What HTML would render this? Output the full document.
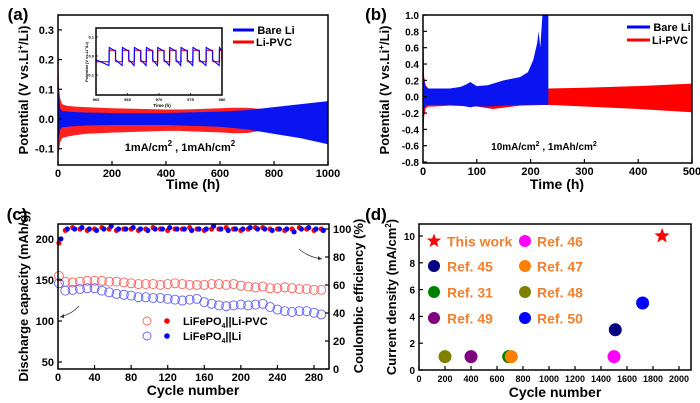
<!DOCTYPE html>
<html><head><meta charset="utf-8">
<style>
html,body{margin:0;padding:0;background:#fff;}
svg{display:block;font-family:"Liberation Sans",Arial,sans-serif;font-weight:bold;}
</style></head>
<body>
<svg id="fig" width="700" height="403" viewBox="0 0 700 403" xmlns="http://www.w3.org/2000/svg"></svg>
<script>
// ---------- Panel (a) data ----------
const aRedT = [0,3,8,15,30,60,100,200,300,400,450,500,600,650,700,750,800];
const aRedUp = [0.35,0.12,0.07,0.05,0.045,0.042,0.04,0.036,0.034,0.032,0.032,0.033,0.036,0.038,0.038,0.034,0.02];
const aRedLo = [-0.155,-0.11,-0.08,-0.065,-0.06,-0.055,-0.05,-0.046,-0.043,-0.04,-0.04,-0.042,-0.045,-0.048,-0.047,-0.04,-0.025];
const aBlueT = [0,3,8,15,50,100,200,400,600,700,800,900,1000];
const aBlueUp = [0.24,0.09,0.035,0.027,0.024,0.022,0.02,0.02,0.025,0.03,0.04,0.05,0.06];
const aBlueLo = [-0.1,-0.06,-0.035,-0.028,-0.025,-0.022,-0.02,-0.02,-0.026,-0.035,-0.05,-0.065,-0.085];
const aXTicks = [0,200,400,600,800,1000];
const aYTicks = [-0.1,0.0,0.1,0.2,0.3];
// inset
const insetHighStarts = [962.1,964.2,966.1,968.0,969.8,971.7,973.5,975.4,977.5,979.6];
const insetXTicks = [960,965,970,975,980];
const insetYTicks = [-0.1,0.0,0.1];
// ---------- Panel (b) data ----------
const bBlueT = [0,2,5,10,30,50,70,80,88,95,100,120,150,180,195,205,212,215,218,222,226,233];
const bBlueUp = [0.9,0.2,0.12,0.1,0.1,0.1,0.12,0.15,0.18,0.15,0.13,0.14,0.2,0.24,0.3,0.45,0.65,0.8,0.6,1.0,1.0,1.0];
const bBlueLo = [-0.65,-0.15,-0.1,-0.1,-0.1,-0.1,-0.11,-0.12,-0.13,-0.12,-0.12,-0.12,-0.11,-0.1,-0.1,-0.1,-0.1,-0.1,-0.1,-0.1,-0.1,-0.1];
const bRedT = [0,2,5,10,20,50,100,130,180,233,300,400,500];
const bRedUp = [1.0,0.25,0.14,0.1,0.1,0.1,0.1,0.1,0.1,0.1,0.11,0.13,0.16];
const bRedLo = [-0.75,-0.25,-0.14,-0.12,-0.12,-0.11,-0.12,-0.15,-0.11,-0.1,-0.12,-0.15,-0.19];
const bXTicks = [0,100,200,300,400,500];
const bYTicks = [-0.8,-0.6,-0.4,-0.2,0.0,0.2,0.4,0.6,0.8,1.0];
// ---------- Panel (c) data ----------
const cCycles = [1,8,16,24,32,40,48,56,64,72,80,88,96,104,112,120,128,136,144,152,160,168,176,184,192,200,208,216,224,232,240,248,256,264,272,280,288];
const cRedCap = [155,148,147,148,149,149,149,148,148,147,146,145,145,145,144,145,146,145,144,144,144,145,145,144,145,143,142,141,142,140,140,141,140,139,139,138,138];
const cBlueCap = [146,137,138,139,140,140,137,135,133,132,131,129,129,128,128,127,126,125,126,127,123,121,119,118,119,120,119,120,121,117,114,112,111,112,112,110,108];
const cRedCE = [90,99,101,100,99,100,101,100,99,100,100,99,100,101,100,99,100,100,101,100,99,100,100,101,100,99,100,101,101,100,100,99,100,101,100,99,100];
const cBlueCE = [93,100,100,101,100,99,100,102,100,100,101,100,99,100,100,101,100,100,99,100,100,102,100,99,100,100,101,100,100,99,100,100,98,100,101,100,99];
const cXTicks = [0,40,80,120,160,200,240,280];
const cYTicks = [50,100,150,200];
const cY2Ticks = [0,20,40,60,80,100];
// ---------- Panel (d) data ----------
const dNames = ["This work","Ref. 45","Ref. 31","Ref. 49","Ref. 46","Ref. 47","Ref. 48","Ref. 50"];
const dCycles = [1870,1510,690,400,1500,710,200,1720];
const dCurrent = [10,3,1,1,1,1,1,5];
const dColors = ["#ff0000","#000080","#008000","#800080","#ff00ff","#ff8000","#808000","#0000ff"];
const dXTicks = [0,200,400,600,800,1000,1200,1400,1600,1800,2000];
const dYTicks = [0,2,4,6,8,10];

const NS="http://www.w3.org/2000/svg";
const svg=document.getElementById('fig');
function el(tag,attrs,parent,text){const e=document.createElementNS(NS,tag);for(const k in attrs)e.setAttribute(k,attrs[k]);if(text!==undefined)e.textContent=text;(parent||svg).appendChild(e);return e;}
function lin(d0,d1,r0,r1){return v=>r0+(v-d0)/(d1-d0)*(r1-r0);}
function band(g,T,U,L,sx,sy,color,name){
  let d="M"+sx(T[0])+","+sy(U[0]);
  for(let i=1;i<T.length;i++)d+="L"+sx(T[i])+","+sy(U[i]);
  for(let i=T.length-1;i>=0;i--)d+="L"+sx(T[i])+","+sy(L[i]);
  const p=el('path',{d:d+"Z",fill:color},g);
  
  
}
function frame(g,x0,y0,x1,y1,name){const r=el('rect',{x:x0,y:y0,width:x1-x0,height:y1-y0,fill:'none',stroke:'#000','stroke-width':1.5},g);}
function xticks(g,ticks,sx,y,fmt,fs){for(const t of ticks){el('line',{x1:sx(t),x2:sx(t),y1:y,y2:y-4,stroke:'#000','stroke-width':1.2},g);const tx=el('text',{x:sx(t),y:y+12,'font-size':fs||11,'text-anchor':'middle'},g,fmt?fmt(t):t);}}
function yticks(g,ticks,sy,x,fmt,fs,right){for(const t of ticks){el('line',{x1:x,x2:right?x-4:x+4,y1:sy(t),y2:sy(t),stroke:'#000','stroke-width':1.2},g);const tx=el('text',{x:right?x+4:x-4,y:sy(t)+4,'font-size':fs||11,'text-anchor':right?'start':'end'},g,fmt?fmt(t):t);}}
function label(g,txt,x,y,fs,name,rot){const t=el('text',{x:x,y:y,'font-size':fs,'text-anchor':'middle',transform:rot?`rotate(-90 ${x} ${y})`:''},g);t.innerHTML=txt;return t;}

// ===== Panel a =====
{
const g=el('g',{});
const sx=lin(0,1000,58,328), sy=lin(0,0.1,119,89.3);
band(g,aRedT,aRedUp,aRedLo,sx,sy,'#ff2020','red-band-li-pvc');
band(g,aBlueT,aBlueUp,aBlueLo,sx,sy,'#0a14f0','blue-band-bare-li');
frame(g,58,15,328,165,'plot-frame-a');
xticks(g,aXTicks,sx,165);
yticks(g,aYTicks,sy,58,t=>t.toFixed(1));
label(g,'(a)',18,20,17,'panel-label-a');
label(g,'Time (h)',193,189,14,'x-axis-title-a');
label(g,'Potential (V vs.Li<tspan font-size="8" dy="-5">+</tspan><tspan dy="5">/Li)</tspan>',28,90,13,'y-axis-title-a',true);
label(g,'1mA/cm<tspan font-size="8" dy="-5">2</tspan><tspan dy="5"> , 1mAh/cm</tspan><tspan font-size="8" dy="-5">2</tspan>',180,151,11,'condition-label-a');
// legend
el('line',{x1:233,x2:254,y1:30,y2:30,stroke:'#0000ff','stroke-width':3},g);
label(g,'Bare Li',276,34,11,'legend-bare-li');
el('line',{x1:233,x2:254,y1:42,y2:42,stroke:'#ff0000','stroke-width':3},g);
label(g,'Li-PVC',274,46,11,'legend-li-pvc');
// inset
const ig=el('g',{},g);
const ix=lin(960,980,96,222), iy=lin(0,0.1,56,37);
el('rect',{x:96,y:28,width:126,height:67,fill:'#fff'},ig);
let dr="",db="";
for(let i=0;i<insetHighStarts.length;i++){
  const s=insetHighStarts[i], e=Math.min(s+1.0,980), n=Math.min(s+2.0,980);
  const prevE = i===0?960:insetHighStarts[i-1]+1.0;
  dr+=`M${ix(prevE)},${iy(-0.03)}L${ix(s)},${iy(-0.03)}L${ix(s)},${iy(0.03)}L${ix(e)},${iy(0.03)}L${ix(e)},${iy(-0.03)}`;
  db+=`M${ix(prevE)},${iy(-0.02)}L${ix(s-0.05)},${iy(-0.05)}L${ix(s)},${iy(0.045)}L${ix(e)},${iy(0.025)}L${ix(e)},${iy(-0.02)}`;
}
const pr=el('path',{d:dr,fill:'none',stroke:'#ff2020','stroke-width':1.3},ig);
const pb=el('path',{d:db,fill:'none',stroke:'#0000ff','stroke-width':1.1},ig);
frame(ig,96,28,222,95,'inset-frame');
for(const t of insetXTicks){el('line',{x1:ix(t),x2:ix(t),y1:95,y2:93,stroke:'#000','stroke-width':0.7},ig);el('text',{x:ix(t),y:101,'font-size':4,'text-anchor':'middle'},ig,t);}
for(const t of insetYTicks){el('line',{x1:96,x2:98,y1:iy(t),y2:iy(t),stroke:'#000','stroke-width':0.7},ig);el('text',{x:94,y:iy(t)+1.5,'font-size':4,'text-anchor':'end'},ig,t.toFixed(1));}
label(ig,'Time (h)',162,107,4.5,'inset-x-title');
label(ig,'Potential (V vs.Li<tspan font-size="3" dy="-2">+</tspan><tspan dy="2">/Li)</tspan>',88,62,4,'inset-y-title',true);
}

// ===== Panel b =====
{
const g=el('g',{});
const sx=lin(0,500,423,692), sy=lin(0,1.0,96.7,15);
band(g,bRedT,bRedUp,bRedLo,sx,sy,'#ff0000','red-band-li-pvc-b');
band(g,bBlueT,bBlueUp,bBlueLo,sx,sy,'#0a14f0','blue-band-bare-li-b');
frame(g,423,15,692,163,'plot-frame-b');
xticks(g,bXTicks,sx,163);
yticks(g,bYTicks,sy,423,t=>t.toFixed(1),10);
label(g,'(b)',376,20,17,'panel-label-b');
label(g,'Time (h)',557,189,14,'x-axis-title-b');
label(g,'Potential (V vs.Li<tspan font-size="8" dy="-5">+</tspan><tspan dy="5">/Li)</tspan>',389,90,13,'y-axis-title-b',true);
label(g,'10mA/cm<tspan font-size="7" dy="-4">2</tspan><tspan dy="4"> , 1mAh/cm</tspan><tspan font-size="7" dy="-4">2</tspan>',544,150,10,'condition-label-b');
el('line',{x1:627,x2:650,y1:27,y2:27,stroke:'#0000ff','stroke-width':3},g);
label(g,'Bare Li',672,31,11,'legend-bare-li-b');
el('line',{x1:627,x2:650,y1:40,y2:40,stroke:'#ff0000','stroke-width':3},g);
label(g,'Li-PVC',670,44,11,'legend-li-pvc-b');
}

// ===== Panel c =====
{
const g=el('g',{});
const sx=lin(0,280,58,314), sy=lin(50,200,362,239), sy2=lin(0,100,369,229);
for(let i=0;i<cCycles.length;i++){
  const c=el('circle',{cx:sx(cCycles[i]),cy:sy(cRedCap[i]),r:4.5,fill:'none',stroke:'#ff6060','stroke-width':0.9},g);
  
  
}
for(let i=0;i<cCycles.length;i++){
  const c=el('circle',{cx:sx(cCycles[i]),cy:sy(cBlueCap[i]),r:4.5,fill:'none',stroke:'#6060ff','stroke-width':0.9},g);
  
  
}
for(let i=0;i<cCycles.length;i++){
  const c=el('circle',{cx:sx(cCycles[i]),cy:sy2(cRedCE[i]),r:2.6,fill:'#ff0000'},g);
  
  
}
for(let i=0;i<cCycles.length;i++){
  const c=el('circle',{cx:sx(cCycles[i])+2,cy:sy2(cBlueCE[i]),r:2.6,fill:'#0000ff'},g);
  
  
}
frame(g,58,224,329,369,'plot-frame-c');
xticks(g,cXTicks,sx,369);
yticks(g,cYTicks,sy,58);
yticks(g,cY2Ticks,sy2,329,null,11,true);
label(g,'(c)',17,220,17,'panel-label-c');
label(g,'Cycle number',193,395,14,'x-axis-title-c');
label(g,'Discharge capacity (mAh/g)',28,296,13,'y-axis-title-c',true);
label(g,'Coulombic efficiency (%)',363,296,13,'y2-axis-title-c',true);
// arrows
el('path',{d:'M79,306 Q72,314 60,317',fill:'none',stroke:'#333','stroke-width':0.8},g);
el('path',{d:'M60,317 l4,-3 l0,4z',fill:'#333'},g);
el('path',{d:'M299,249 Q308,257 322,259',fill:'none',stroke:'#333','stroke-width':0.8},g);
el('path',{d:'M322,259 l-4,-3 l0,4z',fill:'#333'},g);
// legend
el('circle',{cx:147,cy:321,r:4,fill:'none',stroke:'#ff6060','stroke-width':0.9},g);
el('circle',{cx:167,cy:321,r:2.8,fill:'#ff0000'},g);
const l1=el('text',{x:183,y:325,'font-size':11},g);l1.innerHTML='LiFePO<tspan font-size="7" dy="3">4</tspan><tspan dy="-3">||Li-PVC</tspan>';

el('circle',{cx:147,cy:336,r:4,fill:'none',stroke:'#6060ff','stroke-width':0.9},g);
el('circle',{cx:167,cy:336,r:2.8,fill:'#0000ff'},g);
const l2=el('text',{x:183,y:340,'font-size':11},g);l2.innerHTML='LiFePO<tspan font-size="7" dy="3">4</tspan><tspan dy="-3">||Li</tspan>';

}

// ===== Panel d =====
{
const g=el('g',{});
const sx=lin(0,2000,419,679), sy=lin(0,10,370,236);
function star(cx,cy,r,color,parent){let d="";for(let i=0;i<10;i++){const a=-Math.PI/2+i*Math.PI/5, rr=i%2?r*0.42:r;d+=(i?"L":"M")+(cx+rr*Math.cos(a))+","+(cy+rr*Math.sin(a));}return el('path',{d:d+"Z",fill:color},parent);}
for(let i=0;i<dNames.length;i++){
  let m;
  if(i===0) m=star(sx(dCycles[i]),sy(dCurrent[i]),8,dColors[i],g);
  else m=el('circle',{cx:sx(dCycles[i]),cy:sy(dCurrent[i]),r:6.5,fill:dColors[i]},g);
  
  
}
frame(g,419,224,691,370,'plot-frame-d');
xticks(g,dXTicks,sx,370,null,9);
yticks(g,dYTicks,sy,419,null,10);
label(g,'(d)',376,220,17,'panel-label-d');
label(g,'Cycle number',555,397,14,'x-axis-title-d');
label(g,'Current density (mA/cm<tspan font-size="8" dy="-5">2</tspan><tspan dy="5">)</tspan>',396,297,13,'y-axis-title-d',true);
// legend
const lx=[434,525], tx=[447,537], ly=[241,266,292,318];
for(let i=0;i<dNames.length;i++){
  const col=i<4?0:1, row=i%4;
  if(i===0) star(lx[col],ly[row],7.5,dColors[i],g);
  else el('circle',{cx:lx[col],cy:ly[row],r:6,fill:dColors[i]},g);
  const t=el('text',{x:tx[col],y:ly[row]+5.5,'font-size':14,fill:'#f08030'},g,dNames[i]);
  
  
}
}
</script>
</body></html>
